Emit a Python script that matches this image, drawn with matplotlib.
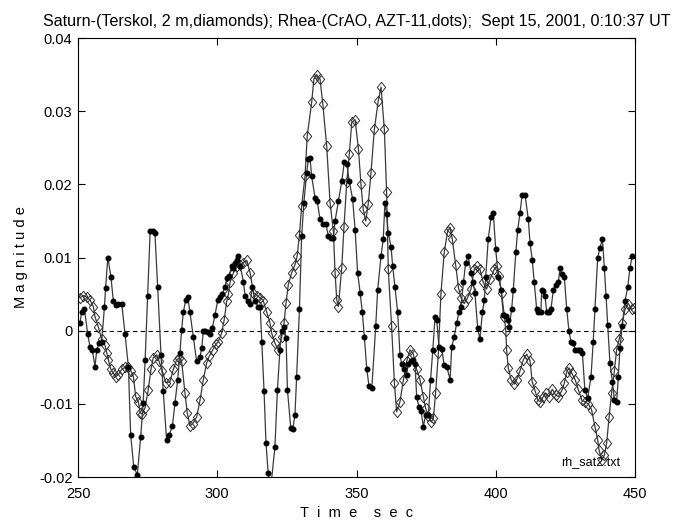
#!/usr/bin/env python3
"""Saturn / Rhea differential light curves, Sept 15 2001 (values read off the reference plot)."""
import matplotlib
matplotlib.use('Agg')
import matplotlib.pyplot as plt
from matplotlib.ticker import FixedLocator, FuncFormatter

plt.rcParams['font.family'] = ['Liberation Sans', 'DejaVu Sans']

# Rhea (CrAO, AZT-11) -- dots
rhea_t = [250.7, 251.3, 252.3, 253.5, 254.3, 255.1, 256.1, 256.7, 257.5, 258.5,
          259.5, 259.9, 260.7, 261.8, 262.7, 263.5, 264.5, 265.7, 266.9, 268.1,
          268.9, 270.0, 271.3, 272.5, 273.4, 274.1, 275.0, 275.9, 277.0, 277.6,
          278.6, 279.8, 280.6, 281.8, 282.8, 283.9, 284.8, 285.8, 286.6, 287.2,
          287.8, 288.7, 289.4, 290.2, 291.4, 292.6, 293.8, 294.4, 295.0, 295.6,
          296.6, 297.4, 298.2, 299.2, 300.2, 301.0, 301.8, 302.8, 303.4, 304.2,
          305.2, 305.8, 306.4, 307.0, 307.6, 308.2, 309.4, 310.0, 310.9, 311.8,
          312.6, 313.6, 314.7, 315.4, 316.0, 316.8, 317.5, 318.3, 319.2, 320.7,
          321.6, 322.5, 323.1, 324.0, 324.7, 325.2, 326.4, 327.1, 327.9, 328.5,
          329.5, 330.3, 331.1, 332.1, 332.7, 333.3, 333.9, 335.1, 335.9, 336.9,
          338.1, 339.0, 339.9, 340.7, 341.7, 342.3, 343.5, 344.7, 345.6, 346.5,
          347.4, 348.6, 349.5, 350.4, 351.3, 352.1, 352.8, 353.7, 354.5, 355.5,
          356.9, 357.6, 358.8, 359.6, 360.2, 360.8, 361.4, 362.4, 363.0, 363.8,
          364.8, 365.6, 366.2, 367.2, 368.0, 368.6, 369.6, 370.4, 371.0, 371.6,
          372.4, 373.2, 374.0, 374.8, 375.8, 376.6, 377.4, 378.2, 378.8, 379.6,
          380.6, 381.5, 382.4, 383.6, 384.2, 385.1, 386.0, 386.8, 387.5, 388.4,
          389.2, 390.1, 391.1, 391.9, 392.5, 393.5, 394.3, 395.2, 395.9, 396.4,
          397.3, 398.3, 399.1, 400.0, 400.9, 401.9, 402.7, 403.6, 404.3, 404.8,
          405.7, 406.3, 407.2, 407.9, 408.7, 409.5, 410.5, 411.7, 412.3, 413.1,
          413.8, 414.7, 415.3, 416.2, 416.5, 417.1, 417.7, 418.3, 419.1, 419.8,
          420.7, 421.5, 422.5, 423.1, 423.7, 424.6, 425.5, 426.3, 427.0, 427.8,
          428.5, 429.4, 430.2, 431.1, 432.0, 433.0, 434.2, 435.0, 435.6, 436.6,
          437.4, 438.3, 439.0, 439.6, 440.2, 441.0, 441.9, 442.6, 443.4, 444.0,
          444.6, 445.4, 446.4, 447.4, 448.2, 449.0]
rhea_mag = [0.0011, 0.0025, 0.0030, -0.0005, -0.0022, -0.0026, -0.0049, -0.0027, -0.0017, -0.0015,
            0.0033, 0.0059, 0.0100, 0.0074, 0.0040, 0.0035, 0.0037, 0.0037, -0.0005, -0.0050,
            -0.0142, -0.0186, -0.0197, -0.0145, -0.0099, -0.0040, 0.0047, 0.0136, 0.0136, 0.0134,
            0.0060, -0.0033, -0.0083, -0.0149, -0.0142, -0.0130, -0.0099, -0.0067, -0.0030, 0.0001,
            0.0025, 0.0042, 0.0046, 0.0025, -0.0008, -0.0042, -0.0036, -0.0024, -0.0001, 0.0000,
            -0.0002, -0.0005, 0.0003, 0.0022, 0.0042, 0.0046, 0.0050, 0.0060, 0.0072, 0.0075,
            0.0088, 0.0086, 0.0093, 0.0097, 0.0102, 0.0089, 0.0067, 0.0047, 0.0040, 0.0037,
            0.0060, 0.0040, 0.0033, 0.0033, -0.0015, -0.0083, -0.0154, -0.0195, -0.0215, -0.0159,
            -0.0081, -0.0026, 0.0000, 0.0005, -0.0010, -0.0081, -0.0133, -0.0135, -0.0115, -0.0063,
            0.0029, 0.0129, 0.0175, 0.0216, 0.0234, 0.0236, 0.0211, 0.0182, 0.0177, 0.0152,
            0.0146, 0.0146, 0.0129, 0.0127, 0.0127, 0.0150, 0.0177, 0.0204, 0.0230, 0.0228,
            0.0204, 0.0180, 0.0138, 0.0079, 0.0052, 0.0025, -0.0008, -0.0053, -0.0076, -0.0078,
            0.0006, 0.0056, 0.0102, 0.0125, 0.0175, 0.0160, 0.0134, 0.0114, 0.0088, 0.0060,
            0.0025, -0.0033, -0.0045, -0.0053, -0.0060, -0.0045, -0.0042, -0.0040, -0.0045, -0.0090,
            -0.0104, -0.0110, -0.0131, -0.0115, -0.0115, -0.0067, -0.0026, 0.0019, 0.0015, -0.0022,
            -0.0025, -0.0047, -0.0049, -0.0067, -0.0022, -0.0008, 0.0011, 0.0025, 0.0033, 0.0066,
            0.0093, 0.0102, 0.0079, 0.0066, 0.0052, 0.0004, -0.0012, 0.0025, 0.0042, 0.0074,
            0.0125, 0.0155, 0.0161, 0.0111, 0.0074, 0.0056, 0.0022, 0.0020, 0.0015, 0.0005,
            0.0029, 0.0056, 0.0107, 0.0138, 0.0161, 0.0186, 0.0186, 0.0152, 0.0120, 0.0097,
            0.0067, 0.0029, 0.0025, 0.0025, 0.0056, 0.0054, 0.0047, 0.0025, 0.0025, 0.0029,
            0.0056, 0.0063, 0.0067, 0.0086, 0.0078, 0.0074, 0.0029, -0.0001, -0.0015, -0.0017,
            -0.0026, -0.0026, -0.0026, -0.0030, -0.0081, -0.0092, -0.0063, -0.0015, 0.0029, 0.0100,
            0.0113, 0.0125, 0.0086, 0.0047, 0.0008, -0.0044, -0.0070, -0.0095, -0.0098, -0.0063,
            -0.0024, 0.0006, 0.0040, 0.0060, 0.0086, 0.0102]

# Saturn (Terskol, 2 m) -- diamonds
sat_t = [250.7, 251.9, 253.1, 254.3, 255.5, 256.1, 257.3, 258.5, 259.7, 260.3,
         260.9, 261.8, 262.7, 263.5, 264.5, 265.7, 266.9, 268.1, 269.0, 269.9,
         270.7, 271.7, 272.3, 272.9, 274.1, 275.2, 276.2, 277.0, 278.3, 279.1,
         280.3, 281.5, 283.0, 284.2, 285.4, 286.4, 287.2, 288.4, 289.2, 290.2,
         291.2, 292.6, 293.8, 295.0, 296.2, 297.1, 298.4, 299.6, 300.4, 301.6,
         302.5, 303.4, 304.0, 304.6, 305.8, 307.0, 308.2, 309.4, 310.6, 311.8,
         313.0, 314.2, 315.4, 316.5, 317.8, 318.9, 319.5, 320.7, 321.9, 323.1,
         324.0, 324.7, 325.5, 326.7, 327.9, 328.7, 329.5, 330.3, 331.5, 332.3,
         333.9, 334.7, 335.7, 336.9, 337.9, 339.3, 340.5, 341.7, 342.3, 342.9,
         343.5, 344.7, 345.5, 346.5, 347.4, 348.3, 349.5, 350.7, 351.6, 352.4,
         353.3, 354.2, 355.2, 356.4, 357.8, 358.8, 360.0, 360.8, 361.4, 362.6,
         363.6, 364.4, 365.6, 366.8, 368.0, 369.2, 370.4, 371.6, 372.8, 374.0,
         374.8, 375.8, 376.8, 377.6, 378.4, 379.4, 380.3, 381.5, 382.7, 383.6,
         384.4, 385.6, 386.6, 387.5, 388.7, 389.9, 391.1, 392.3, 393.2, 394.3,
         395.5, 396.7, 397.9, 399.5, 400.3, 401.2, 402.1, 403.1, 403.6, 403.9,
         404.5, 405.5, 406.7, 407.5, 408.7, 409.9, 411.1, 412.3, 413.1, 414.1,
         415.1, 415.9, 417.1, 417.9, 419.1, 420.3, 421.5, 422.5, 423.7, 424.6,
         425.5, 426.3, 427.3, 428.5, 429.6, 430.9, 432.0, 433.2, 434.4, 435.6,
         436.6, 437.1, 438.0, 439.0, 439.8, 440.7, 441.6, 442.6, 443.4, 444.3,
         445.4, 446.4, 447.6, 448.8, 449.6]
sat_mag = [0.0045, 0.0048, 0.0046, 0.0042, 0.0033, 0.0019, 0.0005, -0.0012, -0.0020, -0.0030,
           -0.0040, -0.0053, -0.0058, -0.0063, -0.0060, -0.0053, -0.0050, -0.0050, -0.0055, -0.0063,
           -0.0090, -0.0098, -0.0112, -0.0114, -0.0105, -0.0081, -0.0053, -0.0037, -0.0033, -0.0042,
           -0.0055, -0.0071, -0.0070, -0.0053, -0.0040, -0.0037, -0.0042, -0.0085, -0.0112, -0.0130,
           -0.0127, -0.0118, -0.0095, -0.0067, -0.0044, -0.0035, -0.0026, -0.0018, -0.0015, -0.0003,
           0.0015, 0.0040, 0.0050, 0.0066, 0.0079, 0.0088, 0.0090, 0.0093, 0.0096, 0.0079,
           0.0052, 0.0048, 0.0045, 0.0041, 0.0025, 0.0011, -0.0003, -0.0017, -0.0026, -0.0009,
           0.0011, 0.0038, 0.0063, 0.0079, 0.0090, 0.0102, 0.0131, 0.0170, 0.0211, 0.0266,
           0.0312, 0.0344, 0.0350, 0.0344, 0.0310, 0.0252, 0.0175, 0.0136, 0.0079, 0.0042,
           0.0033, 0.0086, 0.0142, 0.0203, 0.0241, 0.0285, 0.0288, 0.0248, 0.0200, 0.0166,
           0.0150, 0.0173, 0.0216, 0.0275, 0.0314, 0.0333, 0.0275, 0.0190, 0.0084, 0.0006,
           -0.0071, -0.0111, -0.0097, -0.0068, -0.0042, -0.0026, -0.0032, -0.0053, -0.0067, -0.0090,
           -0.0106, -0.0116, -0.0125, -0.0120, -0.0085, -0.0030, 0.0050, 0.0107, 0.0136, 0.0141,
           0.0125, 0.0090, 0.0059, 0.0045, 0.0037, 0.0045, 0.0057, 0.0084, 0.0088, 0.0084,
           0.0066, 0.0057, 0.0070, 0.0084, 0.0088, 0.0075, 0.0052, 0.0019, 0.0000, -0.0026,
           -0.0051, -0.0067, -0.0073, -0.0067, -0.0055, -0.0040, -0.0032, -0.0041, -0.0070, -0.0082,
           -0.0095, -0.0097, -0.0090, -0.0085, -0.0090, -0.0080, -0.0088, -0.0090, -0.0082, -0.0072,
           -0.0056, -0.0051, -0.0058, -0.0067, -0.0080, -0.0095, -0.0097, -0.0100, -0.0108, -0.0131,
           -0.0149, -0.0163, -0.0177, -0.0170, -0.0154, -0.0118, -0.0085, -0.0055, -0.0026, -0.0012,
           0.0010, 0.0029, 0.0037, 0.0029, 0.0031]

x_ticks = [250, 300, 350, 400, 450]
y_ticks = [-0.02, -0.01, 0, 0.01, 0.02, 0.03, 0.04]
title = 'Saturn-(Terskol, 2 m,diamonds); Rhea-(CrAO, AZT-11,dots);  Sept 15, 2001, 0:10:37 UT'

line_col = '#3a3a3a'
diamond = [(0, 1), (0.8, 0), (0, -1), (-0.8, 0), (0, 1)]

fig = plt.figure(figsize=(6.79, 5.25), dpi=100)
ax = fig.add_axes([0.1149, 0.0914, 0.8203, 0.8362])

ax.axhline(0, color='k', lw=0.8, ls=(0, (4, 3)), zorder=1)
ax.plot(rhea_t, rhea_mag, color=line_col, lw=0.9, marker='o', ms=3.3,
        mfc='black', mec='black', zorder=3)
ax.plot(sat_t, sat_mag, color=line_col, lw=0.9, marker=diamond, ms=7.5,
        mfc='none', mec='#303030', mew=0.7, zorder=2)

ax.set_xlim(250, 450)
ax.set_ylim(-0.02, 0.04)
ax.xaxis.set_major_locator(FixedLocator(x_ticks))
ax.yaxis.set_major_locator(FixedLocator(y_ticks))
ax.yaxis.set_major_formatter(FuncFormatter(lambda v, p: '0' if abs(v) < 1e-9 else f'{v:g}'))
ax.tick_params(direction='in', top=True, right=True, length=5, width=0.8,
               labelsize=10.5, colors='black')
ax.tick_params(axis='x', pad=7)
ax.tick_params(axis='y', pad=4)
for s in ax.spines.values():
    s.set_linewidth(0.8)

ax.set_title(title, fontsize=11.6, pad=9)
ax.set_xlabel('T  i  m  e    s  e  c', fontsize=10.5, labelpad=4)
ax.set_ylabel('M a g n i t u d e', fontsize=10.5, labelpad=8)
ax.text(0.92, 0.035, 'rh_sat2.txt', transform=ax.transAxes, fontsize=9,
        ha='center', va='center')

fig.savefig('out.png', dpi=100)
